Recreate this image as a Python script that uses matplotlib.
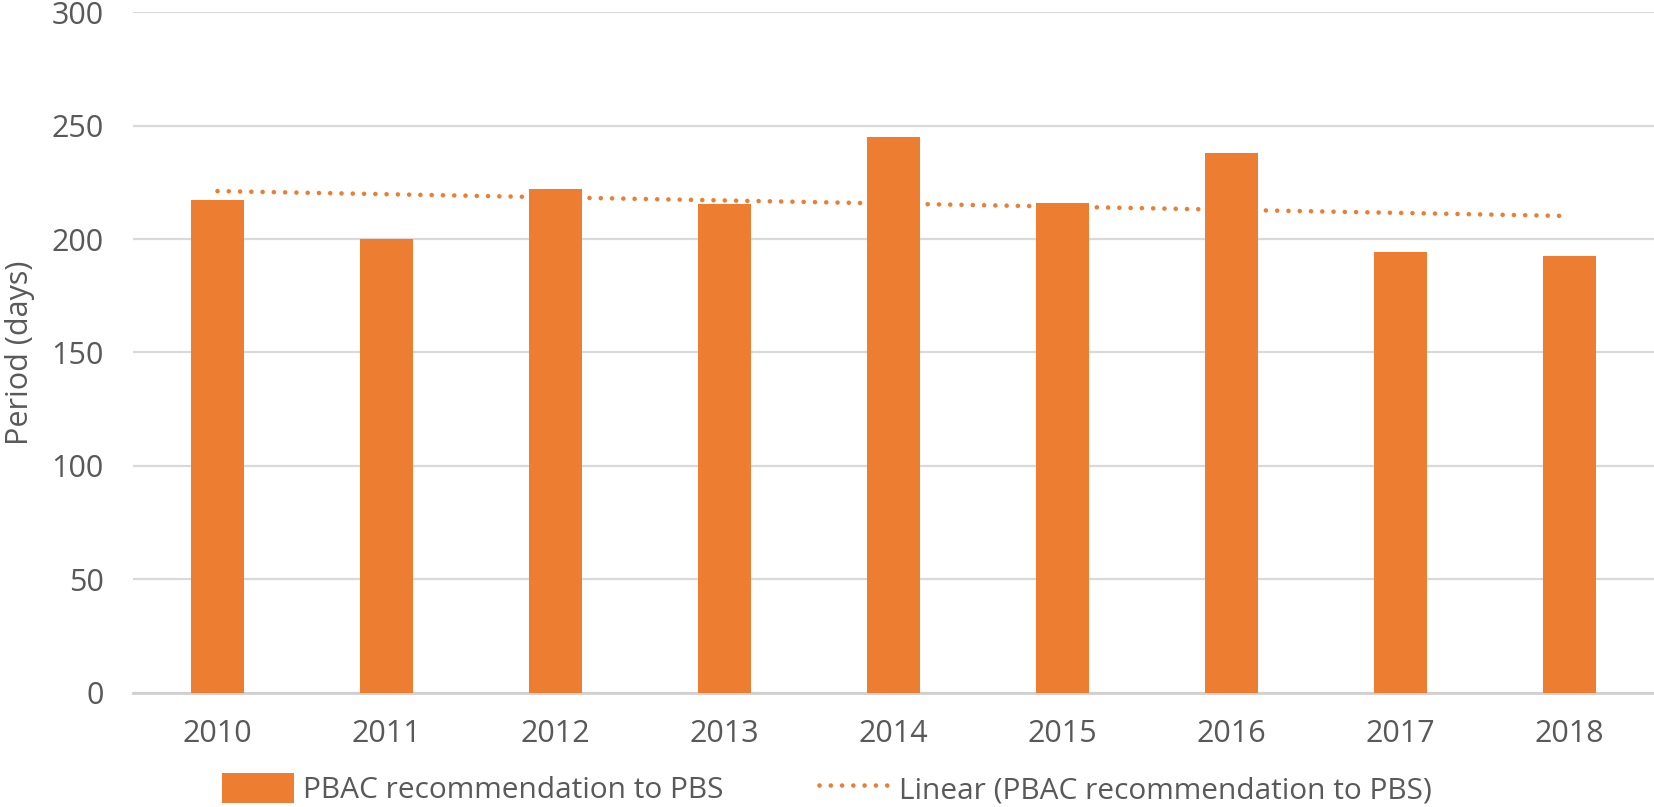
import numpy as np
import matplotlib.pyplot as plt

years = ['2010', '2011', '2012', '2013', '2014', '2015', '2016', '2017', '2018']
days = [217, 200, 222, 215.6, 245, 216, 238, 194.4, 192.5]
y_ticks = [0, 50, 100, 150, 200, 250, 300]

orange = '#ED7D31'
grey_text = '#595959'
grid_col = '#D9D9D9'

plt.rcParams['font.family'] = ['Open Sans', 'DejaVu Sans']

fig = plt.figure(figsize=(16.54, 8.07), dpi=100)
ax = fig.add_axes([0.0804, 0.1413, 0.9196, 0.8438])

x = np.arange(len(years))
bars = ax.bar(x, days, width=0.31, color=orange, zorder=3,
              label='PBAC recommendation to PBS')

# linear trend line, same as excel's
k, b = np.polyfit(x, days, 1)
trend, = ax.plot(x, k * x + b, color=orange, lw=3.3, linestyle=(0, (0.01, 2.45)),
                 dash_capstyle='round', zorder=4,
                 label='Linear (PBAC recommendation to PBS)')

ax.set_xlim(-0.5, len(years) - 0.5)
ax.set_ylim(0, 300)
ax.set_yticks(y_ticks)
ax.set_xticks(x)
ax.set_xticklabels(years)
ax.yaxis.grid(True, color=grid_col, lw=1.6, zorder=0)
ax.set_axisbelow(True)
for s in ['top', 'right', 'left']:
    ax.spines[s].set_visible(False)
ax.spines['bottom'].set_color('#D0D0D0')
ax.spines['bottom'].set_linewidth(2)
ax.tick_params(axis='both', length=0, labelsize=22, colors=grey_text)
ax.tick_params(axis='x', pad=19)
ax.tick_params(axis='y', pad=21)
ax.set_ylabel('Period (days)', fontsize=22, color=grey_text, labelpad=12)

leg = fig.legend(handles=[bars, trend], loc='lower center',
                 bbox_to_anchor=(0.5, -0.031), ncol=2,
                 frameon=False, fontsize=21.5, handlelength=2.4,
                 handleheight=1.2, columnspacing=3.2, handletextpad=0.3)
for t in leg.get_texts():
    t.set_color(grey_text)

fig.savefig('out.png', dpi=100)
